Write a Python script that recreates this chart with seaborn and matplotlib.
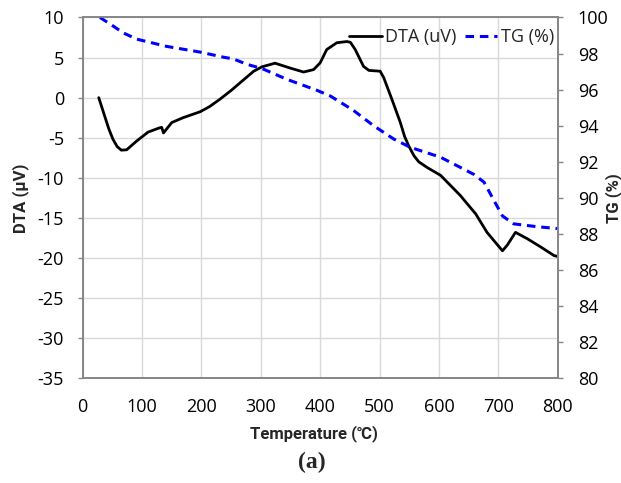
import matplotlib
matplotlib.use("Agg")
import matplotlib.pyplot as plt
import seaborn as sns
import pandas as pd

# DTA signal (µV) versus temperature (°C)
dta_temp = [27, 37, 44, 51, 58, 65, 74, 91, 110, 128, 133, 136, 150, 169, 198, 214,
            231, 250, 265, 288, 302, 324, 349, 372, 389, 400, 411, 428, 445, 451,
            459, 473, 482, 501, 507, 521, 535, 542, 549, 558, 566, 580, 603, 636,
            662, 681, 707, 715, 729, 749, 771, 794, 800]
dta_val = [0, -2.3, -3.9, -5.2, -6.1, -6.55, -6.5, -5.4, -4.3, -3.8, -3.7, -4.4,
           -3.1, -2.5, -1.75, -1.1, -0.2, 0.9, 1.85, 3.3, 3.85, 4.3, 3.7, 3.2, 3.5,
           4.35, 6.0, 6.85, 7.0, 6.9, 6.0, 3.9, 3.4, 3.3, 2.5, -0.25, -3.1, -4.8,
           -6.0, -7.25, -8.0, -8.7, -9.7, -12.2, -14.5, -16.8, -19.1, -18.4, -16.8,
           -17.6, -18.6, -19.7, -19.8]

# TG mass (%) versus temperature (°C)
tg_temp = [29, 48, 68, 91, 141, 198, 237, 254, 277, 302, 344, 394, 417, 456, 490,
           524, 552, 603, 659, 676, 692, 707, 726, 766, 800]
tg_val = [100, 99.6, 99.15, 98.8, 98.4, 98.08, 97.8, 97.7, 97.4, 97.17, 96.57,
          95.97, 95.65, 94.85, 94.0, 93.26, 92.8, 92.25, 91.3, 90.87, 89.9, 89.0,
          88.56, 88.4, 88.3]

x_ticks = [0, 100, 200, 300, 400, 500, 600, 700, 800]
dta_ticks = [10, 5, 0, -5, -10, -15, -20, -25, -30, -35]
tg_ticks = [100, 98, 96, 94, 92, 90, 88, 86, 84, 82, 80]

sns.set_style("white")
plt.rcParams["font.family"] = ["Open Sans", "DejaVu Sans"]
plt.rcParams["axes.unicode_minus"] = False

fig = plt.figure(figsize=(6.21, 4.83), dpi=100)
ax = fig.add_axes([0.1332, 0.2168, 0.898 - 0.1332, 0.9638 - 0.2168])
ax2 = ax.twinx()

dta_df = pd.DataFrame({"T": dta_temp, "DTA": dta_val})
tg_df = pd.DataFrame({"T": tg_temp, "TG": tg_val})

sns.lineplot(data=dta_df, x="T", y="DTA", ax=ax, color="black", linewidth=2.0,
             label="DTA (uV)", legend=False, sort=False)
sns.lineplot(data=tg_df, x="T", y="TG", ax=ax2, color="#0000ff", linewidth=2.2,
             label="TG (%)", legend=False, sort=False)
ax2.lines[0].set_dashes([2.8, 1.9])

spine_c = "#868686"
grid_c = "#d9d9d9"
tick_fs = 13
label_font = dict(fontsize=12, fontweight="bold", family=["Roboto", "DejaVu Sans"])

ax.set_xlim(0, 800)
ax.set_ylim(-35, 10)
ax2.set_ylim(80, 100)
ax.set_xticks(x_ticks)
ax.set_yticks(dta_ticks)
ax2.set_yticks(tg_ticks)

ax.grid(True, color=grid_c, linewidth=1.0)
ax.set_axisbelow(True)

for a in (ax, ax2):
    for s in a.spines.values():
        s.set_color(spine_c)
        s.set_linewidth(1.2)

ax.tick_params(axis="x", length=0, pad=14.5, labelsize=tick_fs, labelcolor="black")
ax.tick_params(axis="y", left=True, length=3.5, width=1.0, color=spine_c,
               pad=10, labelsize=tick_fs, labelcolor="black")
ax2.tick_params(axis="y", right=True, length=3.5, width=1.0, color=spine_c,
                pad=11, labelsize=tick_fs, labelcolor="black")

ax.set_xlabel("Temperature (℃)", **label_font)
ax.xaxis.set_label_coords(0.487, -0.13)
ax.set_ylabel("DTA (μV)", **label_font)
ax.yaxis.set_label_coords(-0.114, 0.5)
ax2.set_ylabel("TG (%)", **label_font)
ax2.yaxis.set_label_coords(1.099, 0.5)

handles = ax.get_lines()[:1] + ax2.get_lines()[:1]
ax2.legend(handles, ["DTA (uV)", "TG (%)"], loc="center right",
           bbox_to_anchor=(0.993, 0.946), ncol=2, frameon=False,
           borderpad=0, borderaxespad=0, handlelength=1.8,
           handletextpad=0.2, columnspacing=0.45, fontsize=tick_fs)

fig.text(312 / 621, 1 - 462 / 483, "(a)", ha="center", va="center",
         fontsize=17, fontweight="bold", family="Liberation Serif")

fig.savefig("out.png", dpi=100)
